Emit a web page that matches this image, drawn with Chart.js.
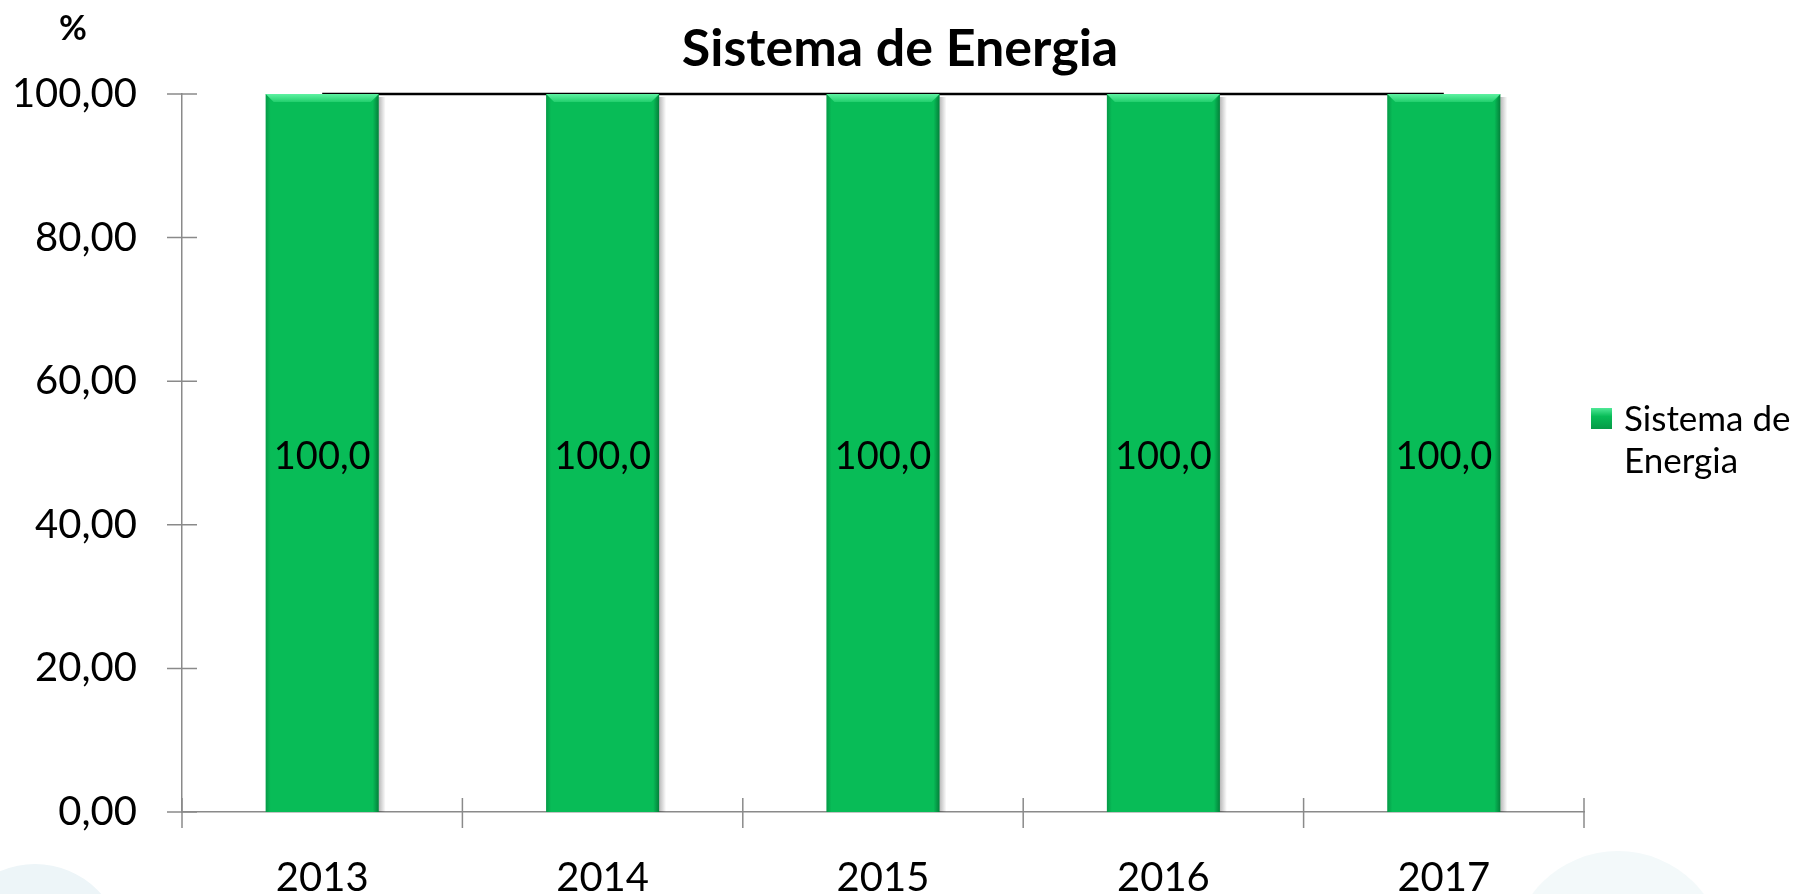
<!DOCTYPE html>
<html>
<head>
<meta charset="utf-8">
<script src="https://cdn.jsdelivr.net/npm/chart.js@4.4.1/dist/chart.umd.min.js"></script>
<style>
  html, body { margin: 0; padding: 0; background: #ffffff; }
  #wrap { width: 1806px; height: 894px; }
</style>
</head>
<body>
<div id="wrap"><canvas id="graficoEnergia" width="1806" height="894"></canvas></div>
<script>
// Dados do gráfico
const anos = ['2013', '2014', '2015', '2016', '2017'];
const valores = [100, 100, 100, 100, 100];
const eixoY = { min: 0, max: 100, passo: 20 };
const titulo = 'Sistema de Energia';
const unidade = '%';
const legendaLinhas = ['Sistema de', 'Energia'];

const FONTE = 'Lato, "Open Sans", sans-serif';
const VERDE = '#08bc57';
const CINZA_EIXO = '#8a8a8a';

function virgula(v, casas){
    return v.toFixed(casas).replace('.', ',');
}

// Fundo com os círculos claros nos cantos
const fundoPlugin = {
    id: 'fundo',
    beforeDraw(chart){
        const ctx = chart.ctx;
        ctx.save();
        ctx.fillStyle = '#ffffff';
        ctx.fillRect(0, 0, chart.width, chart.height);
        ctx.fillStyle = '#edf5f8';
        ctx.beginPath();
        ctx.arc(35, 952, 88, 0, Math.PI * 2);
        ctx.fill();
        ctx.fillStyle = '#f3f9fa';
        ctx.beginPath();
        ctx.arc(1618, 958, 107, 0, Math.PI * 2);
        ctx.fill();
        ctx.restore();
    }
};

// Efeito de relevo das barras (estilo Excel)
const relevoPlugin = {
    id: 'relevo',
    afterDatasetDraw(chart, args){
        if(args.index !== 0) return;
        const ctx = chart.ctx;
        args.meta.data.forEach(bar => {
            const p = bar.getProps(['x', 'y', 'base', 'width'], true);
            const l = p.x - p.width / 2, r = p.x + p.width / 2;
            const t = p.y, b = p.base;
            const bv = 8;
            ctx.save();
            // sombra à direita
            let g = ctx.createLinearGradient(r, 0, r + 7, 0);
            g.addColorStop(0, 'rgba(0,0,0,0.28)');
            g.addColorStop(1, 'rgba(0,0,0,0)');
            ctx.fillStyle = g;
            ctx.fillRect(r, t + 3, 7, b - t - 3);
            // borda esquerda
            g = ctx.createLinearGradient(l, 0, l + 5, 0);
            g.addColorStop(0, 'rgba(0,90,40,0.35)');
            g.addColorStop(1, 'rgba(0,90,40,0)');
            ctx.fillStyle = g;
            ctx.fillRect(l, t, 5, b - t);
            // borda direita
            g = ctx.createLinearGradient(r - 6, 0, r, 0);
            g.addColorStop(0, 'rgba(0,80,35,0)');
            g.addColorStop(1, 'rgba(0,80,35,0.55)');
            ctx.fillStyle = g;
            ctx.beginPath();
            ctx.moveTo(r, t);
            ctx.lineTo(r, b);
            ctx.lineTo(r - 6, b);
            ctx.lineTo(r - 6, t + bv);
            ctx.closePath();
            ctx.fill();
            // topo claro
            g = ctx.createLinearGradient(0, t, 0, t + bv);
            g.addColorStop(0, '#5ef2a2');
            g.addColorStop(1, '#22cf6d');
            ctx.fillStyle = g;
            ctx.beginPath();
            ctx.moveTo(l, t);
            ctx.lineTo(r, t);
            ctx.lineTo(r - bv, t + bv);
            ctx.lineTo(l + bv, t + bv);
            ctx.closePath();
            ctx.fill();
            ctx.restore();
        });
    }
};

// Eixos com marcas cruzadas, rótulos, título e legenda
const decoracaoPlugin = {
    id: 'decoracao',
    afterDatasetsDraw(chart){
        const ctx = chart.ctx;
        const xs = chart.scales.x, ys = chart.scales.y;
        const area = chart.chartArea;
        ctx.save();

        // marcas do eixo
        ctx.strokeStyle = CINZA_EIXO;
        ctx.lineWidth = 1.5;
        ctx.beginPath();
        ys.ticks.forEach((tk, i) => {
            const py = ys.getPixelForTick(i);
            ctx.moveTo(area.left - 15, py);
            ctx.lineTo(area.left + 15, py);
        });
        for(let i = 0; i <= anos.length; i++){
            const px = xs.getPixelForValue(i - 0.5);
            ctx.moveTo(px, area.bottom - 14);
            ctx.lineTo(px, area.bottom + 16);
        }
        ctx.stroke();

        // rótulos de dados
        ctx.fillStyle = '#000000';
        ctx.font = '38px ' + FONTE;
        ctx.textAlign = 'center';
        ctx.textBaseline = 'middle';
        chart.getDatasetMeta(0).data.forEach((bar, i) => {
            const p = bar.getProps(['x', 'y', 'base'], true);
            ctx.fillText(virgula(valores[i], 1), p.x, (p.y + p.base) / 2 + 4);
        });

        // título e unidade
        ctx.font = 'bold 52px ' + FONTE;
        ctx.textBaseline = 'alphabetic';
        ctx.fillText(titulo, 900, 66);
        ctx.font = 'bold 34px ' + FONTE;
        ctx.fillText(unidade, 73, 40);

        // legenda
        const gq = ctx.createLinearGradient(0, 408, 0, 429);
        gq.addColorStop(0, '#4fe896');
        gq.addColorStop(0.4, VERDE);
        gq.addColorStop(1, '#069a47');
        ctx.fillStyle = gq;
        ctx.fillRect(1591, 408, 21, 21);
        ctx.fillStyle = '#000000';
        ctx.font = '35px ' + FONTE;
        ctx.textAlign = 'left';
        legendaLinhas.forEach((linha, i) => {
            ctx.fillText(linha, 1624, 431 + i * 42);
        });
        ctx.restore();
    }
};

const ctx = document.getElementById('graficoEnergia').getContext('2d');
new Chart(ctx, {
    data: {
        labels: anos,
        datasets: [
            {
                type: 'bar',
                label: titulo,
                data: valores,
                backgroundColor: VERDE,
                borderWidth: 0,
                barPercentage: 0.403,
                categoryPercentage: 1,
                order: 1
            },
            {
                type: 'line',
                label: 'linha',
                data: valores,
                borderColor: '#000000',
                borderWidth: 2.5,
                pointRadius: 0,
                fill: false,
                clip: false,
                order: 2
            }
        ]
    },
    options: {
        responsive: false,
        animation: false,
        layout: { padding: { top: 94, right: 222, left: 0, bottom: 0 } },
        plugins: {
            legend: { display: false },
            title: { display: false },
            tooltip: { enabled: false }
        },
        scales: {
            x: {
                offset: true,
                grid: { display: false, drawTicks: false },
                border: { display: true, color: CINZA_EIXO, width: 1.5 },
                ticks: {
                    color: '#000000',
                    padding: 42,
                    font: { family: FONTE, size: 40 }
                },
                afterFit(scale){ scale.height = 82; }
            },
            y: {
                min: eixoY.min,
                max: eixoY.max,
                grid: { display: false, drawTicks: false },
                border: { display: true, color: CINZA_EIXO, width: 1.5 },
                ticks: {
                    stepSize: eixoY.passo,
                    color: '#000000',
                    padding: 45,
                    font: { family: FONTE, size: 40 },
                    callback: v => virgula(v, 2)
                },
                afterFit(scale){ scale.width = 182; }
            }
        }
    },
    plugins: [fundoPlugin, relevoPlugin, decoracaoPlugin]
});
</script>
</body>
</html>
